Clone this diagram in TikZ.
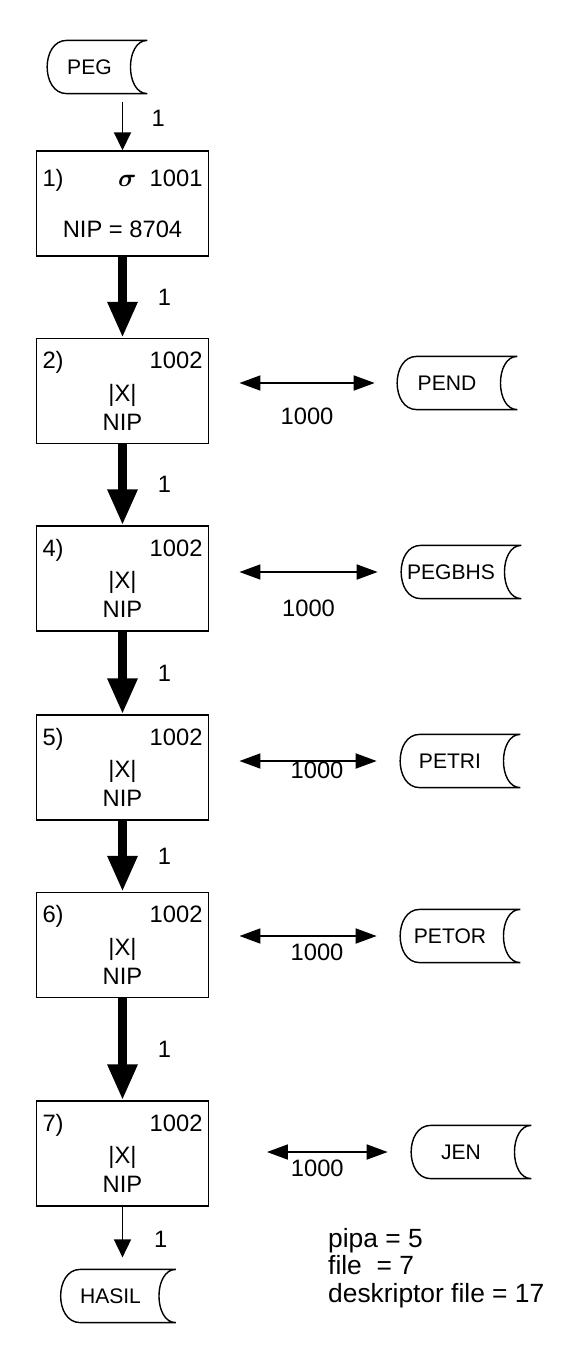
\documentclass[tikz,border=0pt]{standalone}
\usepackage{fontspec}
\setmainfont{Liberation Sans}
\usepackage{amsmath,amssymb}
\usepackage{bm}
\usetikzlibrary{calc,arrows.meta,positioning}

\begin{document}
\begin{tikzpicture}[
    every node/.style={font=\fontsize{13.5}{15}\selectfont},
    opbox/.style={draw=black, line width=0.8pt, minimum width=3.45cm, minimum height=2.1cm, inner sep=0pt, align=center},
    filesym/.style={minimum width=2.4cm, minimum height=1.05cm, inner sep=0pt, font=\fontsize{12}{14}\selectfont},
    fileline/.style={line width=0.8pt, black},
    inarr/.style={-{Triangle[width=0.34cm, length=0.36cm]}, line width=1pt},
    joinarr/.style={-{Triangle[width=0.56cm, length=0.72cm]}, line width=5pt},
    linkarr/.style={{Triangle[width=0.3cm, length=0.42cm]}-{Triangle[width=0.3cm, length=0.42cm]}, line width=1pt},
  ]
    \useasboundingbox (0,0) rectangle (11.7,-27.02);

    % input and result files
    \node[filesym, minimum width=2.0cm] (peg) at (1.94,-1.34) {PEG\kern0.3cm};
    \node[filesym, minimum width=2.3cm] (hasil) at (2.36,-25.92) {HASIL\kern0.3cm};

    % operation boxes
    \node[opbox] (b1) at (2.45,-4.07)
      {\makebox[3.2cm]{1)\hfill$\boldsymbol{\sigma}$\ \ 1001}\\[0.5cm] NIP = 8704};
    \foreach \n/\k/\y in {b2/2/-7.82, b4/4/-11.57, b5/5/-15.35, b6/6/-18.9, b7/7/-23.07}
      \node[opbox] (\n) at (2.45,\y) {\makebox[3.2cm]{\k)\hfill 1002}\\[0.12cm] |X|\\[0.06cm] NIP};

    % joined files
    \foreach \f/\t/\x/\y in {pend/PEND/9.14/-7.66, pegbhs/PEGBHS/9.22/-11.44, petri/PETRI/9.2/-15.22,
                             petor/PETOR/9.2/-18.72, jen/JEN/9.42/-23.04}
      \node[filesym] (\f) at (\x,\y) {\t\kern0.4cm};

    % file outlines
    \foreach \f in {peg,hasil,pend,pegbhs,petri,petor,jen}
      \draw[fileline] ([xshift=0.4cm]\f.north west) -- (\f.north east)
        .. controls ([xshift=-0.45cm]\f.north east) and ([xshift=-0.45cm]\f.south east) .. (\f.south east)
        -- ([xshift=0.4cm]\f.south west)
        .. controls ([xshift=-0.12cm]\f.south west) and ([xshift=-0.12cm]\f.north west) .. cycle;

    % pipeline
    \draw[inarr] ([yshift=-0.16cm]peg.south -| b1.north) -- node[pos=0.35, right=0.45cm]{1} (b1.north);
    \foreach \a/\b in {b1/b2, b2/b4, b4/b5, b5/b6, b6/b7}
      \draw[joinarr] (\a.south) -- node[right=0.5cm]{1} (\b.north);
    \draw[inarr] (b7.south) -- node[pos=0.65, right=0.5cm]{1} ([yshift=0.24cm]hasil.north -| b7.south);

    % links to joined files
    \foreach \b/\f/\s/\e/\ly/\lx in {b2/pend/0.6/0.44/0.48/0, b4/pegbhs/0.6/0.46/0.54/0,
                                     b5/petri/0.6/0.46/0/0.18, b6/petor/0.6/0.46/0.14/0.18,
                                     b7/jen/1.15/0.46/0.14/-0.2}
      \draw[linkarr] ($(b2.east |- \f.west)+(\s,0)$) -- node[below=\ly cm, xshift=\lx cm, inner sep=0pt]{1000}
        ($(\f.west)-(\e,0)$);

    % totals
    \node[anchor=west, align=left, font=\fontsize{15}{15.6}\selectfont] (notes) at (6.44,-25.36)
      {pipa = 5\\file\ \ = 7\\deskriptor file = 17};
  \end{tikzpicture}
\end{document}
